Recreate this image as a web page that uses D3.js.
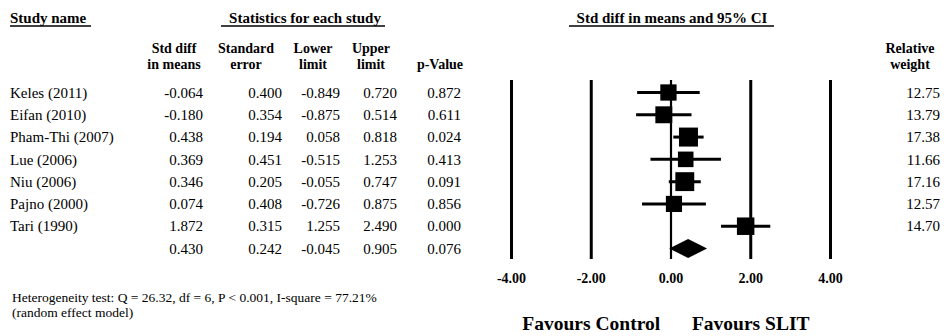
<!DOCTYPE html>
<html>
<head>
<meta charset="utf-8">
<script src="https://cdn.jsdelivr.net/npm/d3@7"></script>
<style>
  html, body { margin: 0; padding: 0; background: #fff; }
  svg { display: block; font-family: "Liberation Serif", "Times New Roman", serif; }
</style>
</head>
<body>
<svg id="chart" width="944" height="336"></svg>
<script>
// Study-level results (standardized mean difference, random effects)
const studies   = ["Keles (2011)", "Eifan (2010)", "Pham-Thi (2007)", "Lue (2006)", "Niu (2006)", "Pajno (2000)", "Tari (1990)"];
const stdDiff   = [-0.064, -0.180, 0.438, 0.369, 0.346, 0.074, 1.872];
const stdErr    = [0.400, 0.354, 0.194, 0.451, 0.205, 0.408, 0.315];
const lower     = [-0.849, -0.875, 0.058, -0.515, -0.055, -0.726, 1.255];
const upper     = [0.720, 0.514, 0.818, 1.253, 0.747, 0.875, 2.490];
const pValue    = [0.872, 0.611, 0.024, 0.413, 0.091, 0.856, 0.000];
const weight    = [12.75, 13.79, 17.38, 11.66, 17.16, 12.57, 14.70];

// Pooled estimate
const pooled = { diff: 0.430, se: 0.242, lower: -0.045, upper: 0.905, p: 0.076 };

const axisTicks = [-4, -2, 0, 2, 4];
const heterogeneity = "Heterogeneity test: Q = 26.32, df = 6, P < 0.001, I-square = 77.21%";
const modelNote = "(random effect model)";

const svg = d3.select("#chart");

// Row positions: one per study plus the pooled row
const rowKeys = d3.range(studies.length + 1);
const y = d3.scalePoint().domain(rowKeys).range([92.5, 248.5]);
const x = d3.scaleLinear().domain([-4, 4]).range([511.5, 830.5]);
const boxSide = d3.scaleSqrt().domain([0, d3.max(weight)]).range([0, 19]);

// Plain hyphen-minus for negative numbers
const locale = d3.formatLocale({ decimal: ".", thousands: ",", grouping: [3], currency: ["", ""], minus: "-" });
const fmt = locale.format(".3f");
const fmtTick = locale.format(".2f");

// --- Section headers ---------------------------------------------------
function header(text, cx, anchor, x1, x2) {
  svg.append("text").attr("x", cx).attr("y", 18).attr("dy", "0.35em")
    .attr("text-anchor", anchor).attr("font-size", 15).attr("font-weight", "bold")
    .text(text);
  svg.append("line").attr("x1", x1).attr("x2", x2).attr("y1", 26).attr("y2", 26)
    .attr("stroke", "#000").attr("stroke-width", 1.3);
}
header("Study name", 10, "start", 10, 91);
header("Statistics for each study", 305, "middle", 221, 385);
header("Std diff in means and 95% CI", 672, "middle", 569, 774);

// --- Column headers ----------------------------------------------------
const colHeads = [
  { lines: ["Std diff", "in means"], cx: 174 },
  { lines: ["Standard", "error"], cx: 246 },
  { lines: ["Lower", "limit"], cx: 313 },
  { lines: ["Upper", "limit"], cx: 371 },
  { lines: ["", "p-Value"], cx: 440 },
  { lines: ["Relative", "weight"], cx: 910 }
];
colHeads.forEach(h => {
  h.lines.forEach((t, i) => {
    svg.append("text").attr("x", h.cx).attr("y", 48 + i * 16).attr("dy", "0.35em")
      .attr("text-anchor", "middle").attr("font-size", 14).attr("font-weight", "bold")
      .text(t);
  });
});

// --- Table of statistics ----------------------------------------------
const colRight = [203, 282, 340, 397, 461];
const rows = studies.map((s, i) => ({
  key: i, name: s, vals: [stdDiff[i], stdErr[i], lower[i], upper[i], pValue[i]], w: weight[i]
}));
rows.push({ key: studies.length, name: "", vals: [pooled.diff, pooled.se, pooled.lower, pooled.upper, pooled.p], w: null });

const rowG = svg.append("g").selectAll("g").data(rows).join("g")
  .attr("transform", d => `translate(0,${y(d.key)})`)
  .attr("font-size", 15);

rowG.append("text").attr("x", 10).attr("dy", "0.35em").text(d => d.name);
rowG.selectAll("text.v").data(d => d.vals).join("text").attr("class", "v")
  .attr("x", (v, i) => colRight[i]).attr("dy", "0.35em").attr("text-anchor", "end")
  .text(v => fmt(v));
rowG.filter(d => d.w !== null).append("text")
  .attr("x", 940).attr("dy", "0.35em").attr("text-anchor", "end")
  .text(d => d.w.toFixed(2));

// --- Forest plot ------------------------------------------------------
const lineTop = 80, lineBottom = 259;
svg.append("g").selectAll("line").data(axisTicks).join("line")
  .attr("x1", d => x(d)).attr("x2", d => x(d))
  .attr("y1", lineTop).attr("y2", lineBottom)
  .attr("stroke", "#000").attr("stroke-width", d => d === 0 ? 2.2 : 3);

svg.append("g").selectAll("text").data(axisTicks).join("text")
  .attr("x", d => x(d)).attr("y", 278).attr("dy", "0.35em")
  .attr("text-anchor", "middle").attr("font-size", 14).attr("font-weight", "bold")
  .text(d => fmtTick(d));

const studyRows = rows.slice(0, studies.length);
const forest = svg.append("g");
forest.selectAll("line.ci").data(studyRows).join("line").attr("class", "ci")
  .attr("x1", d => x(d.vals[2])).attr("x2", d => x(d.vals[3]))
  .attr("y1", d => y(d.key)).attr("y2", d => y(d.key))
  .attr("stroke", "#000").attr("stroke-width", 3);
forest.selectAll("rect").data(studyRows).join("rect")
  .attr("x", d => x(d.vals[0]) - boxSide(d.w) / 2)
  .attr("y", d => y(d.key) - boxSide(d.w) / 2)
  .attr("width", d => boxSide(d.w)).attr("height", d => boxSide(d.w))
  .attr("fill", "#000");

// Pooled diamond
const py = y(studies.length), ph = 9.5;
forest.append("path")
  .attr("d", `M${x(pooled.lower)},${py} L${x(pooled.diff)},${py - ph} L${x(pooled.upper)},${py} L${x(pooled.diff)},${py + ph} Z`)
  .attr("fill", "#000");

// Direction labels
svg.append("text").attr("x", x(-2)).attr("y", 323).attr("dy", "0.35em")
  .attr("text-anchor", "middle").attr("font-size", 19.5).attr("font-weight", "bold")
  .text("Favours Control");
svg.append("text").attr("x", x(2)).attr("y", 323).attr("dy", "0.35em")
  .attr("text-anchor", "middle").attr("font-size", 19.5).attr("font-weight", "bold")
  .text("Favours SLIT");

// Footnotes
svg.append("text").attr("x", 12).attr("y", 297).attr("dy", "0.35em")
  .attr("font-size", 13.5).text(heterogeneity);
svg.append("text").attr("x", 12).attr("y", 312).attr("dy", "0.35em")
  .attr("font-size", 13.5).text(modelNote);
</script>
</body>
</html>
